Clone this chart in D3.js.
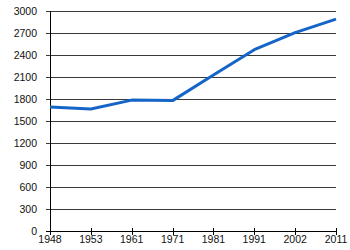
<!DOCTYPE html>
<html><head><meta charset="utf-8">
<script src="https://cdn.jsdelivr.net/npm/d3@7"></script>
<style>body{margin:0;background:#fff}</style>
</head><body>
<svg id="c" width="350" height="250"></svg>
<script>
const years = ["1948","1953","1961","1971","1981","1991","2002","2011"];
const population = [1690, 1664, 1785, 1778, 2127, 2472, 2705, 2890];
const yTicks = [0,300,600,900,1200,1500,1800,2100,2400,2700,3000];

const svg = d3.select("#c");
const x = d3.scalePoint().domain(years).range([50, 336]);
const y = d3.scaleLinear().domain([0, 3000]).range([231, 11]);
const font = "Liberation Sans, Arial, sans-serif";

// gridlines
svg.append("g").selectAll("line").data(yTicks.filter(d=>d>0)).join("line")
  .attr("x1", 46).attr("x2", 336)
  .attr("y1", d=>y(d)+0.5).attr("y2", d=>y(d)+0.5)
  .attr("stroke", "#3a3a3a").attr("stroke-width", 1);

// y labels
svg.append("g").selectAll("text").data(yTicks).join("text")
  .attr("x", 37).attr("y", d=>y(d)+4)
  .attr("text-anchor", "end")
  .attr("font-family", font).attr("font-size", "10.5px").attr("fill", "#111")
  .text(d=>d);

// axes
svg.append("line").attr("x1", 50.5).attr("x2", 50.5).attr("y1", 11).attr("y2", 232)
  .attr("stroke", "#000");
svg.append("line").attr("x1", 46).attr("x2", 337).attr("y1", 231.5).attr("y2", 231.5)
  .attr("stroke", "#000");

// x ticks
svg.append("g").selectAll("line").data(years).join("line")
  .attr("x1", d=>Math.round(x(d))+0.5).attr("x2", d=>Math.round(x(d))+0.5)
  .attr("y1", 228).attr("y2", 235)
  .attr("stroke", "#000");

svg.append("g").selectAll("text").data(years).join("text")
  .attr("x", d=>x(d)).attr("y", 243)
  .attr("text-anchor", "middle")
  .attr("font-family", font).attr("font-size", "10.5px").attr("fill", "#111")
  .text(d=>d);

// line
const line = d3.line().x((d,i)=>x(years[i])).y(d=>y(d));
svg.append("path").datum(population)
  .attr("d", line)
  .attr("fill", "none")
  .attr("stroke", "#1565c8")
  .attr("stroke-width", 3)
  .attr("stroke-linejoin", "round");
</script>
</body></html>
